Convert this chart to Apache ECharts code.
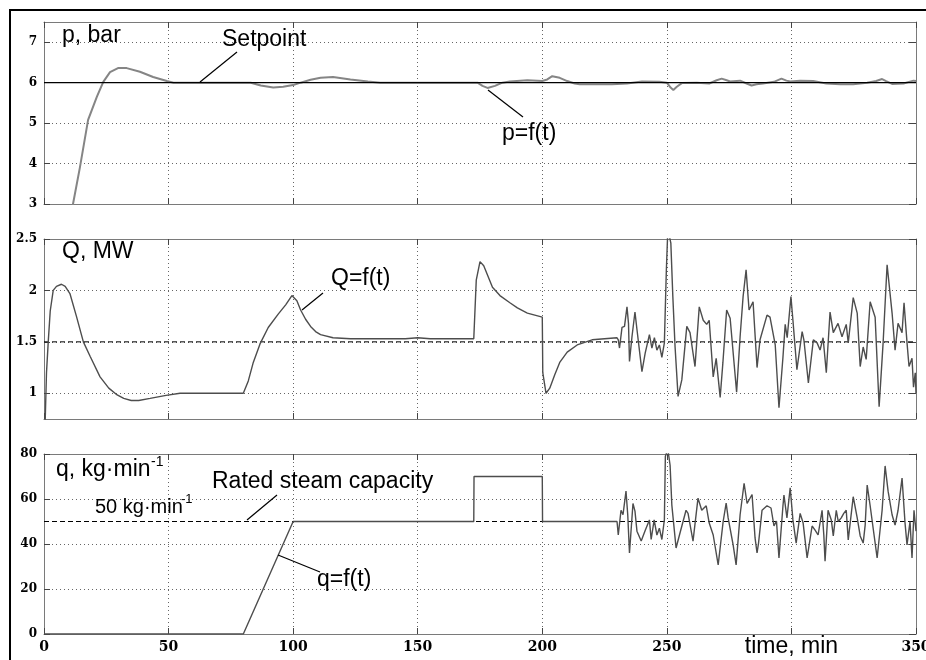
<!DOCTYPE html>
<html>
<head>
<meta charset="utf-8">
<script src="https://cdn.jsdelivr.net/npm/echarts@6/dist/echarts.min.js"></script>
<style>
html,body{margin:0;padding:0;background:#fff;}
#chart{width:926px;height:660px;}
</style>
</head>
<body>
<div id="chart"></div>
<script>
// ---------- DATA ----------
const xTicks = [0, 50, 100, 150, 200, 250, 300, 350];
const pTicks = [3, 4, 5, 6, 7];
const QTicks = [1, 1.5, 2, 2.5];
const qTicks = [0, 20, 40, 60, 80];

// pressure p (bar) vs time (min)
const pData = [[10,2.4],[11.7,3.02],[14.4,3.9],[17.7,5.08],[21.2,5.65],[23.8,6.02],[26.5,6.26],[29.7,6.36],[33.2,6.36],[38.5,6.27],[43.8,6.14],[49.3,6.04],[52,6.0],[83,6.0],[87,5.93],[92,5.88],[96,5.9],[100,5.94],[103,6.0],[107,6.07],[111,6.12],[116,6.14],[123,6.08],[130,6.03],[135,6.0],[174,6.0],[176,5.92],[178,5.87],[181,5.92],[184,6.0],[187,6.03],[194,6.06],[200,6.04],[202,6.08],[204,6.16],[207,6.12],[210,6.04],[213,5.98],[215,5.96],[228,5.96],[234,5.98],[240,6.03],[247,6.02],[250,6.0],[251.5,5.88],[252.6,5.82],[254,5.9],[256,5.99],[262,6.0],[267,5.98],[270,6.06],[272,6.1],[274,6.06],[275.4,6.03],[279.4,6.05],[282,5.98],[284,5.93],[286,5.96],[288.6,5.98],[293,6.02],[296,6.1],[298,6.05],[299.5,6.03],[303.5,6.05],[308.7,6.04],[314,5.98],[319.6,5.96],[324.8,5.96],[330.4,6.0],[334,6.04],[336.4,6.09],[338,6.04],[340.4,5.97],[345,5.98],[349,6.05],[350,6.04]];
const setpointData = [[0,6],[350,6]];

// heat power Q (MW) vs time (min)
const QData = [[0,0.6],[0.5,0.75],[1,1.2],[1.7,1.5],[2.5,1.8],[3.7,2.0],[5,2.04],[7,2.06],[8.5,2.04],[10.4,1.97],[13,1.75],[15.8,1.5],[18.5,1.36],[22.5,1.16],[26,1.05],[29,0.99],[32,0.95],[35,0.93],[38,0.93],[42.6,0.95],[49,0.98],[54.6,1.0],[80,1.0],[82,1.12],[84,1.3],[86.7,1.48],[90,1.64],[94,1.77],[97,1.86],[99.5,1.95],[100.3,1.96],[101.5,1.9],[103,1.81],[105,1.72],[107,1.65],[109,1.6],[111,1.57],[116,1.54],[123,1.53],[145,1.53],[150,1.54],[155,1.53],[172.5,1.53],[173.5,2.1],[175,2.28],[176.5,2.24],[180,2.03],[183,1.95],[187,1.88],[190,1.83],[194,1.78],[200,1.74],[200.2,1.2],[201.5,1.0],[203,1.05],[205,1.18],[207,1.3],[210,1.4],[214,1.47],[220,1.52],[225,1.53],[230,1.54],
[230.5,1.52],[231,1.44],[232,1.64],[233,1.65],[234,1.84],[234.6,1.68],[235,1.31],[236,1.55],[237.2,1.79],[238,1.62],[240,1.21],[241.3,1.39],[243,1.57],[244,1.44],[245,1.54],[246,1.42],[247,1.47],[248,1.35],[249,1.49],[249.8,2.2],[250.4,2.6],[251.2,2.6],[251.6,2.46],[252.4,1.94],[253.3,1.45],[254.5,0.97],[256,1.13],[258,1.65],[259.3,1.59],[261.3,1.26],[263,1.84],[264.6,1.71],[266,1.67],[267,1.71],[268.6,1.16],[269.8,1.34],[271.4,0.96],[272.5,1.3],[274,1.81],[275.4,1.73],[278,1.01],[279.4,1.55],[280.6,1.94],[281.8,2.2],[283,1.81],[284.6,1.89],[286.2,1.25],[287.4,1.52],[290.2,1.76],[291.4,1.74],[293.5,1.47],[295,0.86],[296.6,1.35],[297.5,1.67],[298.3,1.54],[299.8,1.94],[300.6,1.71],[302.2,1.23],[304.3,1.6],[305,1.52],[306.8,1.1],[308.8,1.52],[310.3,1.49],[311.5,1.42],[312.7,1.54],[314,1.2],[315.5,1.79],[316.8,1.59],[318.7,1.68],[320.3,1.55],[322,1.67],[322.8,1.49],[324.8,1.93],[326.4,1.78],[327.6,1.26],[328.8,1.45],[330,1.33],[331.6,1.89],[333.6,1.74],[335.2,0.87],[336.8,1.49],[338.4,2.25],[340.4,1.78],[341.6,1.42],[342.8,1.68],[344.4,1.59],[345.2,1.88],[346.4,1.49],[347.2,1.26],[348.4,1.34],[349,1.06],[349.7,1.2],[350,1.0]];
const QRefData = [[0,1.5],[350,1.5]];

// steam flow q (kg/min) vs time (min)
const qData = [[0,0],[80,0],[100,50],[172.5,50],[172.6,70],[200,70],[200.1,50],[230,50],
[230.5,44],[231.6,55],[232.4,53],[233.6,63.5],[234.3,53],[235,36],[236.4,58],[237.2,54.6],[238,45.7],[239.7,41.3],[241.3,46],[243,50.7],[243.7,42],[244.9,50.7],[246,44],[247,47],[248,42],[249,50.7],[249.4,79],[250.4,82],[251.3,75],[252,57.3],[253.7,38.2],[255.3,45],[257.7,55],[258.5,53.6],[260.5,41.3],[262.5,60.4],[264,55],[265.8,57],[267,49.3],[268.6,44],[270.6,30.7],[272.6,50],[273.8,58.2],[274.6,51.6],[276.6,39.6],[277.8,30.7],[279.4,53],[281,67],[282.2,58],[284.2,62],[285.4,42.7],[286.2,36],[286.8,40.4],[288.2,55],[290.2,57],[291.8,56],[293,48],[294,50.2],[295,33.8],[296.6,57],[297,61.7],[298.2,51.6],[299.5,65],[300.6,50.7],[301.9,40.4],[303.5,53.6],[304.7,49.3],[306.3,33.8],[308.3,48],[309.5,46.2],[310.7,44],[312.3,55],[313,44],[313.5,32.4],[314.7,55],[316,50.7],[316.8,43.6],[318,55],[318.8,50],[320,51.6],[321,53.6],[322,55],[322.8,41.8],[324.8,61],[326.4,51.6],[327.6,43.6],[328.8,40.4],[329.6,48.4],[330.4,66.2],[331.6,57],[332.8,47],[334.4,33.8],[336.4,55],[337.6,74.7],[338.8,63.5],[340.4,53],[341.6,48.4],[342.8,55],[344.4,69.3],[345.6,49.3],[346.4,39.6],[347.6,50],[348.4,33.8],[349.2,55],[350,45.7]];
const qRefData = [[0,50],[350,50]];

// ---------- CHART ----------
const chart = echarts.init(document.getElementById('chart'), null, {renderer:'canvas'});

const FRAME = '#7a7a7a';
const TICK = '#444';
const GRIDC = '#666';
const LBL = {fontFamily:'DejaVu Serif', fontWeight:'bold', color:'#000'};

const grids = [
  {left:44, right:10, top:22, height:182, containLabel:false, outerBoundsMode:'none'},
  {left:44, right:10, top:239, height:180, containLabel:false, outerBoundsMode:'none'},
  {left:44, right:10, top:454, height:180, containLabel:false, outerBoundsMode:'none'}
];
const yDefs = [
  {min:3, max:7.5, ticks:pTicks},
  {min:0.75, max:2.5, ticks:QTicks},
  {min:0, max:80, ticks:qTicks}
];

const xAxes = [], yAxes = [];
grids.forEach((g, i) => {
  xAxes.push({
    gridIndex:i, type:'value', min:0, max:350, interval:50, position:'bottom',
    axisLine:{show:true, onZero:false, lineStyle:{color:FRAME, width:1}},
    axisTick:{show:true, inside:true, length:6, customValues:xTicks, lineStyle:{color:TICK}},
    axisLabel:{
      show:i===2, margin:6, fontSize:14, lineHeight:14, customValues:xTicks, ...LBL,
      formatter:v => v===300 ? '{t|time, min}' : String(v),
      rich:{t:{fontFamily:'Liberation Sans', fontWeight:'normal', fontSize:23, lineHeight:14, color:'#000'}}
    },
    splitLine:{show:true, lineStyle:{color:GRIDC, type:[1,3], width:1}}
  });
  xAxes.push({
    gridIndex:i, type:'value', min:0, max:350, interval:50, position:'top',
    axisLine:{show:true, onZero:false, lineStyle:{color:FRAME, width:1}},
    axisTick:{show:true, inside:true, length:6, lineStyle:{color:TICK}},
    axisLabel:{show:false}, splitLine:{show:false}
  });
  const d = yDefs[i];
  yAxes.push({
    gridIndex:i, type:'value', min:d.min, max:d.max, position:'left',
    axisLine:{show:true, onZero:false, lineStyle:{color:FRAME, width:1}},
    axisTick:{show:true, inside:true, length:6, customValues:d.ticks, lineStyle:{color:TICK}},
    axisLabel:{show:true, margin:7, fontSize:12, customValues:d.ticks, ...LBL},
    splitLine:{show:true, lineStyle:{color:GRIDC, type:[1,3], width:1}}
  });
  yAxes.push({
    gridIndex:i, type:'value', min:d.min, max:d.max, position:'right',
    axisLine:{show:true, onZero:false, lineStyle:{color:FRAME, width:1}},
    axisTick:{show:true, inside:true, length:7, customValues:d.ticks, lineStyle:{color:TICK}},
    axisLabel:{show:false}, splitLine:{show:false}
  });
});

function lineSeries(data, gi, color, width, type, z) {
  return {
    type:'line', data:data, xAxisIndex:gi*2, yAxisIndex:gi*2,
    showSymbol:false, symbol:'none', clip:true, z:z,
    lineStyle:{color:color, width:width, type:type || 'solid'}
  };
}

const series = [
  lineSeries(pData, 0, '#858585', 2.0, 'solid', 2),
  lineSeries(setpointData, 0, '#000', 1.4, 'solid', 3),
  lineSeries(QRefData, 1, '#000', 1, [5,3], 2),
  lineSeries(QData, 1, '#4d4d4d', 1.4, 'solid', 3),
  lineSeries(qRefData, 2, '#000', 1, [5,3], 2),
  lineSeries(qData, 2, '#4d4d4d', 1.4, 'solid', 3)
];

const TXT = '23px "Liberation Sans"';
function txt(s, x, y, font) {
  return {type:'text', x:x, y:y, z:100,
    style:{text:s, font:font || TXT, fill:'#000', verticalAlign:'middle', textVerticalAlign:'middle'}};
}
function seg(x1, y1, x2, y2) {
  return {type:'line', z:100, shape:{x1:x1, y1:y1, x2:x2, y2:y2}, style:{stroke:'#000', lineWidth:1.2}};
}

const graphic = [
  {type:'rect', z:100, shape:{x:10, y:10, width:940, height:700}, style:{fill:'none', stroke:'#000', lineWidth:2}},
  txt('p, bar', 62, 36),
  txt('Setpoint', 222, 40),
  seg(200, 82, 237, 52),
  txt('p=f(t)', 502, 134),
  seg(488, 90, 523, 117),
  txt('Q, MW', 62, 252),
  txt('Q=f(t)', 331, 279),
  seg(302, 310, 323, 293),
  txt('q, kg·min', 56, 470),
  txt('-1', 151, 462, '14px "Liberation Sans"'),
  txt('Rated steam capacity', 212, 482),
  txt('50 kg·min', 95, 507, '20px "Liberation Sans"'),
  txt('-1', 181, 499, '13px "Liberation Sans"'),
  seg(247, 520, 277, 495),
  txt('q=f(t)', 317, 580),
  seg(278, 555, 320, 572)
];

chart.setOption({
  animation:false,
  backgroundColor:'#fff',
  grid:grids,
  xAxis:xAxes,
  yAxis:yAxes,
  series:series,
  graphic:graphic
});
</script>
</body>
</html>
